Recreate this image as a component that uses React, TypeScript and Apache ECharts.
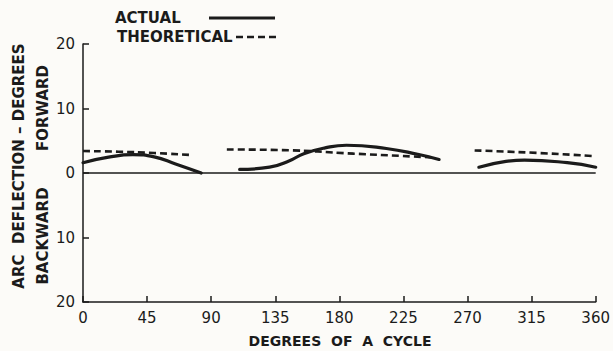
import React, { useEffect, useRef } from "react";
import * as echarts from "echarts";

const xTicks = [0, 45, 90, 135, 180, 225, 270, 315, 360];
const yTicks = [-20, -10, 0, 10, 20];

const actualSeg1: [number, number][] = [[0, 1.6], [18, 2.45], [35, 2.85], [50, 2.5], [65, 1.4], [83, 0]];
const actualSeg2: [number, number][] = [[110, 0.55], [131, 0.9], [145, 1.9], [155, 3.0], [170, 3.9], [185, 4.3], [213, 3.8], [235, 2.9], [250, 2.1]];
const actualSeg3: [number, number][] = [[278, 0.9], [297, 1.8], [310, 2.0], [340, 1.6], [360, 0.9]];

const theoSeg1: [number, number][] = [[0, 3.4], [25, 3.3], [50, 3.1], [75, 2.8]];
const theoSeg2: [number, number][] = [[101, 3.65], [140, 3.55], [190, 3.0], [247, 2.4]];
const theoSeg3: [number, number][] = [[275, 3.5], [320, 3.1], [360, 2.6]];

const zeroLine: [number, number][] = [[0, 0], [360, 0]];

const INK = "#1b1b1b";
const FONT = "DejaVu Sans";

export default function App() {
  const ref = useRef<HTMLDivElement>(null);
  useEffect(() => {
    if (!ref.current) return;
    const chart = echarts.init(ref.current, undefined, { renderer: "svg" });
    const solid = (data: [number, number][]) => ({
      type: "line",
      data,
      smooth: true,
      showSymbol: false,
      lineStyle: { color: INK, width: 3.2, cap: "round" },
    });
    const dashed = (data: [number, number][]) => ({
      type: "line",
      data,
      smooth: true,
      showSymbol: false,
      lineStyle: { color: INK, width: 2.6, type: [7, 4] },
    });
    chart.setOption({
      animation: false,
      backgroundColor: "#fcfbf8",
      grid: { left: 83, right: 17, top: 44, bottom: 49 },
      xAxis: {
        type: "value",
        min: 0,
        max: 360,
        interval: 45,
        axisLine: { onZero: false, lineStyle: { color: INK, width: 1.5 } },
        axisTick: { inside: true, length: 6, lineStyle: { color: INK, width: 1.5 } },
        axisLabel: {
          color: INK,
          fontFamily: FONT,
          fontSize: 15,
          margin: 8,
          formatter: (v: number) => (xTicks.includes(v) ? String(v) : ""),
        },
        splitLine: { show: false },
      },
      yAxis: {
        type: "value",
        min: -20,
        max: 20,
        interval: 10,
        axisLine: { show: true, onZero: false, lineStyle: { color: INK, width: 1.5 } },
        axisTick: { show: true, inside: true, length: 6, lineStyle: { color: INK, width: 1.5 } },
        axisLabel: {
          color: INK,
          fontFamily: FONT,
          fontSize: 15,
          margin: 8,
          formatter: (v: number) => (yTicks.includes(v) ? String(Math.abs(v)) : ""),
        },
        splitLine: { show: false },
      },
      series: [
        {
          type: "line",
          data: zeroLine,
          showSymbol: false,
          lineStyle: { color: INK, width: 1.5 },
        },
        solid(actualSeg1),
        solid(actualSeg2),
        solid(actualSeg3),
        dashed(theoSeg1),
        dashed(theoSeg2),
        dashed(theoSeg3),
      ],
      graphic: [
        {
          type: "text",
          left: 115,
          top: 10,
          style: { text: "ACTUAL", fill: INK, font: `bold 15px "${FONT}"` },
        },
        {
          type: "line",
          shape: { x1: 209, y1: 18, x2: 275, y2: 18 },
          style: { stroke: INK, lineWidth: 3.2 },
        },
        {
          type: "text",
          left: 117,
          top: 29,
          style: { text: "THEORETICAL", fill: INK, font: `bold 15px "${FONT}"` },
        },
        {
          type: "line",
          shape: { x1: 236, y1: 37, x2: 276, y2: 37 },
          style: { stroke: INK, lineWidth: 2.6, lineDash: [7, 4] },
        },
        {
          type: "text",
          x: 19,
          y: 166,
          rotation: Math.PI / 2,
          style: {
            text: "ARC  DEFLECTION – DEGREES",
            fill: INK,
            font: `bold 15px "${FONT}"`,
            align: "center",
            verticalAlign: "middle",
          },
        },
        {
          type: "text",
          x: 43,
          y: 108,
          rotation: Math.PI / 2,
          style: {
            text: "FORWARD",
            fill: INK,
            font: `bold 15px "${FONT}"`,
            align: "center",
            verticalAlign: "middle",
          },
        },
        {
          type: "text",
          x: 43,
          y: 236,
          rotation: Math.PI / 2,
          style: {
            text: "BACKWARD",
            fill: INK,
            font: `bold 15px "${FONT}"`,
            align: "center",
            verticalAlign: "middle",
          },
        },
        {
          type: "text",
          x: 340,
          y: 341,
          style: {
            text: "DEGREES  OF  A  CYCLE",
            fill: INK,
            font: `bold 14px "${FONT}"`,
            align: "center",
            verticalAlign: "middle",
          },
        },
      ],
    });
    return () => chart.dispose();
  }, []);
  return (
    <div
      ref={ref}
      style={{ position: "fixed", left: 0, top: 0, width: 613, height: 351 }}
    />
  );
}
